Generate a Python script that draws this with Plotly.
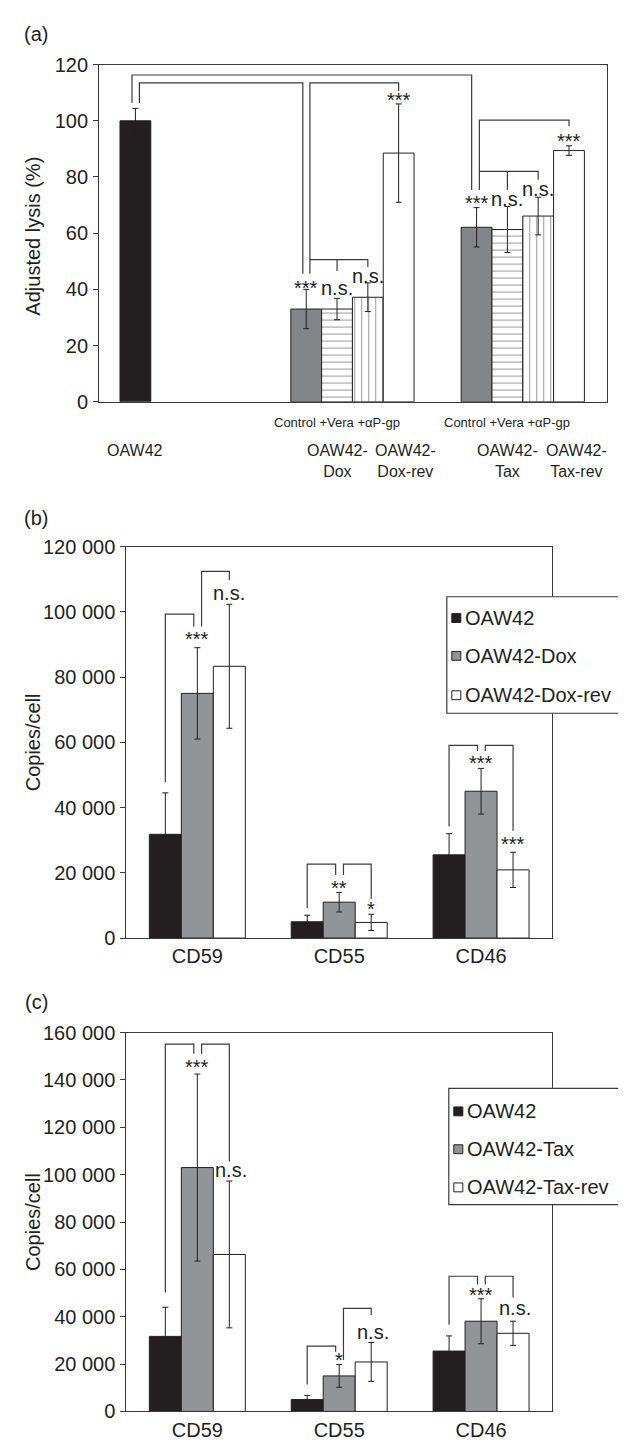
import plotly.graph_objects as go

W, H = 626, 1443
FONT = "Liberation Sans, Arial, sans-serif"
INK = "#231f20"
GRAY_A = "#838588"
GRAY_BC = "#929497"
FRAME = "#3a3a3a"
BRK = "#3a3a3a"

# ---------------- data ----------------
# Panel (a): adjusted lysis (%)
a_bars = ["OAW42", "OAW42-Dox Control", "OAW42-Dox +Vera", "OAW42-Dox +αP-gp", "OAW42-Dox-rev",
          "OAW42-Tax Control", "OAW42-Tax +Vera", "OAW42-Tax +αP-gp", "OAW42-Tax-rev"]
a_values = [100, 33.0, 33.0, 37.2, 88.5, 62.1, 61.3, 66.1, 89.4]
a_errors = [4.4, 7.0, 3.8, 5.1, 17.5, 7.0, 8.2, 6.7, 1.7]
a_treatments = "Control +Vera +αP-gp"
a_cell_lines = ["OAW42", "OAW42-<br>Dox", "OAW42-<br>Dox-rev", "OAW42-<br>Tax", "OAW42-<br>Tax-rev"]
a_yticks = [0, 20, 40, 60, 80, 100, 120]

# Panels (b), (c): copies/cell
markers = ["CD59", "CD55", "CD46"]
b_series = ["OAW42", "OAW42-Dox", "OAW42-Dox-rev"]
b_values = [[31800, 5000, 25500], [75000, 11000, 45000], [83300, 4800, 20900]]
b_errors = [[12700, 2000, 6500], [14000, 3000, 7000], [19000, 2500, 5400]]
c_series = ["OAW42", "OAW42-Tax", "OAW42-Tax-rev"]
c_values = [[31700, 5000, 25500], [103000, 15000, 38100], [66300, 20900, 33000]]
c_errors = [[12300, 1800, 6400], [39500, 4800, 9500], [31000, 8200, 5100]]
b_yticks = [0, 20000, 40000, 60000, 80000, 100000, 120000]
c_yticks = [0, 20000, 40000, 60000, 80000, 100000, 120000, 140000, 160000]

# ---------------- layout helpers ----------------
def px_x(px):
    return px / W

def px_y(py):
    return 1 - py / H

A_X = (91.2, 599.2); A_Y = (388.7, 46.3)
B_X = (118.4, 544.0); B_Y = (933.3, 535.7)
C_X = (118.4, 544.0); C_Y = (1414.0, 1029.3)

fig = go.Figure()

# Panel (a) bar positions (slot units, bar width = 1 slot)
slot_starts = [0.675, 6.22, 11.75]
group_sizes = [1, 4, 4]
a_x = []
for s, n in zip(slot_starts, group_sizes):
    a_x += [s + 0.5 + i for i in range(n)]
a_colors = [INK, GRAY_A, "white", "white", "white", GRAY_A, "white", "white", "white"]
a_shapes = ["", "", "-", "|", "", "", "-", "|", ""]

fig.add_trace(go.Bar(
    x=a_x, y=a_values, width=1, name="lysis", hovertext=a_bars,
    marker=dict(color=a_colors, line=dict(color=INK, width=1),
                pattern=dict(shape=a_shapes, fgcolor=INK, bgcolor="white", size=7, solidity=0.16)),
    error_y=dict(type="data", array=a_errors, color=INK, thickness=1, width=3),
    xaxis="x", yaxis="y", showlegend=False))

fills = [INK, GRAY_BC, "white"]
for vals, errs, names, xa, ya in [(b_values, b_errors, b_series, "x2", "y2"),
                                  (c_values, c_errors, c_series, "x3", "y3")]:
    for i in range(3):
        fig.add_trace(go.Bar(
            x=markers, y=vals[i], name=names[i], offsetgroup=str(i),
            marker=dict(color=fills[i], line=dict(color=INK, width=1)),
            error_y=dict(type="data", array=errs[i], color=INK, thickness=1, width=3),
            xaxis=xa, yaxis=ya, showlegend=False))

shapes = []
annotations = []

def bracket(xr, yr, x0, x1, ytop, y0b, y1b):
    shapes.append(dict(type="path", xref=xr, yref=yr, layer="above",
                       path=f"M {x0},{y0b} L {x0},{ytop} L {x1},{ytop} L {x1},{y1b}",
                       line=dict(color=BRK, width=1.2)))

def vline(xr, yr, x, y0, y1):
    shapes.append(dict(type="line", xref=xr, yref=yr, x0=x, x1=x, y0=y0, y1=y1, layer="above",
                       line=dict(color=BRK, width=1.2)))

def label(xr, yr, x, y, text, size=20, dy=0):
    annotations.append(dict(xref=xr, yref=yr, x=x, y=y, text=text, showarrow=False,
                            font=dict(size=size, color=INK, family=FONT),
                            xanchor="center", yanchor="middle", yshift=dy))

# ----- significance marks, panel (a)
c = a_x
bracket("x", "y", c[0] - 0.11, c[5] - 0.16, 116.3, 106.3, 75.4)
bracket("x", "y", c[0] + 0.13, c[1] - 0.11, 113.5, 106.3, 45.6)
bracket("x", "y", c[1] + 0.12, c[4], 113.5, 45.6, 110.6)
bracket("x", "y", c[1] + 0.12, c[3], 50.6, 50.6, 48.0)
vline("x", "y", c[2], 50.6, 46.5)
bracket("x", "y", c[5] + 0.09, c[8], 100.2, 75.4, 98.1)
bracket("x", "y", c[5] + 0.09, c[7], 82.0, 82.0, 79.0)
vline("x", "y", c[6], 82.0, 75.5)
for xi, yv, t in [(1, 41.9, "***"), (2, 40.5, "n.s."), (3, 44.7, "n.s."), (4, 109.0, "***"),
                  (5, 72.2, "***"), (6, 72.0, "n.s."), (7, 75.8, "n.s."), (8, 94.4, "***")]:
    label("x", "y", c[xi], yv, t, size=20, dy=-4 if t == "***" else 0)

# ----- significance marks, panels (b), (c)
off = 0.2256
def group_marks(xr, yr, specs, texts):
    for g, (b1, b2) in enumerate(specs):
        bracket(xr, yr, g - off, g - 0.025, b1[0], b1[1], b1[2])
        bracket(xr, yr, g + 0.03, g + off, b2[0], b2[1], b2[2])
    for g, (t1, y1, t2, y2, dx2) in enumerate(texts):
        label(xr, yr, g, y1, t1, dy=-4 if "*" in t1 else 0)
        label(xr, yr, g + off + dx2, y2, t2, dy=-4 if "*" in t2 else 0)

group_marks("x2", "y2",
            [((99300, 47800, 95500), (112400, 95500, 109700)),
             ((22640, 9240, 19320), (22640, 19320, 12070)),
             ((59030, 34190, 57340), (59030, 57340, 32900))],
            [("***", 92830, "n.s.", 105700, 0.0),
             ("**", 16700, "*", 10080, 0.0),
             ("***", 54800, "***", 29970, 0.0)])
group_marks("x3", "y3",
            [((155100, 50200, 151100), (155100, 151100, 105600)),
             ((27570, 11350, 25240), (43540, 21750, 40760)),
             ((57100, 36600, 53650), (57100, 53650, 48120))],
            [("***", 147200, "n.s.", 101900, 0.01),
             ("*", 23400, "n.s.", 33560, 0.015),
             ("***", 50870, "n.s.", 43540, 0.015)])

# ----- panel (a) category labels
for xi in (2, 6):
    label("x", "paper", c[xi], px_y(410), a_treatments, size=13)
lab_pos = [c[0], c[2], c[4] + 0.22, c[6], c[8] + 0.25]
for xv, t in zip(lab_pos, a_cell_lines):
    annotations.append(dict(xref="x", yref="paper", x=xv, y=px_y(428), text=t, showarrow=False,
                            font=dict(size=16, color=INK, family=FONT), xanchor="center",
                            yanchor="top", align="center"))

# ----- panel labels and y titles
for t, py in [("(a)", 15), ("(b)", 506.7), ("(c)", 998.3)]:
    annotations.append(dict(xref="paper", yref="paper", x=px_x(28), y=px_y(py), text=t,
                            showarrow=False, font=dict(size=20, color=INK, family=FONT),
                            xanchor="center", yanchor="middle"))
for t, py in [("Adjusted lysis (%)", 221), ("Copies/cell", 734.5), ("Copies/cell", 1221.6)]:
    annotations.append(dict(xref="paper", yref="paper", x=px_x(25), y=px_y(py), text=t,
                            textangle=-90, showarrow=False,
                            font=dict(size=20, color=INK, family=FONT),
                            xanchor="center", yanchor="middle"))

# ----- manual legends
def legend(box, rows, names):
    x0, x1, y0, y1 = box
    shapes.append(dict(type="rect", xref="paper", yref="paper", layer="above",
                       x0=px_x(x0), x1=px_x(x1), y0=px_y(y1), y1=px_y(y0),
                       fillcolor="white", line=dict(color=FRAME, width=1.2)))
    for ry, nm, fc in zip(rows, names, fills):
        shapes.append(dict(type="rect", xref="paper", yref="paper", layer="above",
                           x0=px_x(x0 + 5), x1=px_x(x0 + 14), y0=px_y(ry + 4.5), y1=px_y(ry - 4.5),
                           fillcolor=fc, line=dict(color=INK, width=1)))
        annotations.append(dict(xref="paper", yref="paper", x=px_x(x0 + 16), y=px_y(ry), text=nm,
                                showarrow=False, xanchor="left", yanchor="middle",
                                font=dict(size=20, color=INK, family=FONT)))

legend((438.8, 622, 586.7, 705), [608.3, 646.7, 686.7], b_series)
legend((440.8, 622, 1086, 1204), [1109.3, 1147.7, 1186.5], c_series)

axis_common = dict(showline=True, mirror=True, linecolor=FRAME, linewidth=1.2,
                   showgrid=False, zeroline=False,
                   tickfont=dict(size=20, color=INK, family=FONT))
ytick_common = dict(ticks="outside", ticklen=5, tickcolor=FRAME, tickwidth=1.2,
                    ticklabelstandoff=1)

fig.update_layout(
    width=W, height=H, autosize=False,
    margin=dict(l=0, r=0, t=0, b=0),
    paper_bgcolor="white", plot_bgcolor="white",
    font=dict(family=FONT, color=INK),
    separators=". ",
    barmode="group", bargap=0.3235, bargroupgap=0,
    showlegend=False,
    xaxis=dict(domain=[px_x(A_X[0]), px_x(A_X[1])], anchor="y", range=[0, 16.49],
               showticklabels=False, ticks="", **axis_common),
    yaxis=dict(domain=[px_y(A_Y[0]), px_y(A_Y[1])], anchor="x", range=[0, 120],
               tickvals=a_yticks, **ytick_common, **axis_common),
    xaxis2=dict(domain=[px_x(B_X[0]), px_x(B_X[1])], anchor="y2", ticks="", type="category",
                range=[-0.5, 2.5], **axis_common),
    yaxis2=dict(domain=[px_y(B_Y[0]), px_y(B_Y[1])], anchor="x2", range=[0, 120000],
                tickvals=b_yticks, tickformat=",d", **ytick_common, **axis_common),
    xaxis3=dict(domain=[px_x(C_X[0]), px_x(C_X[1])], anchor="y3", ticks="", type="category",
                range=[-0.5, 2.5], **axis_common),
    yaxis3=dict(domain=[px_y(C_Y[0]), px_y(C_Y[1])], anchor="x3", range=[0, 160000],
                tickvals=c_yticks, tickformat=",d", **ytick_common, **axis_common),
    shapes=shapes, annotations=annotations,
)

fig.write_html("out.html")
